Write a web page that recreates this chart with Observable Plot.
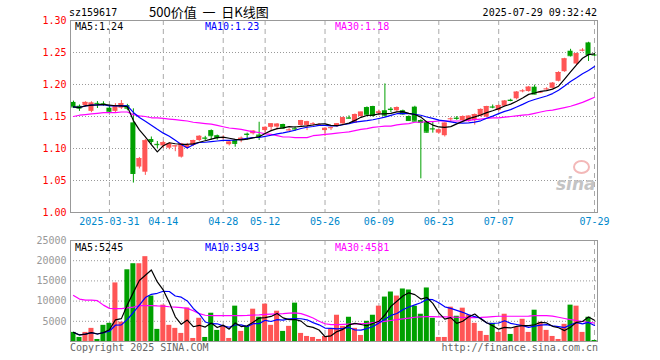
<!DOCTYPE html>
<html><head><meta charset="utf-8">
<script src="https://cdn.jsdelivr.net/npm/d3@7"></script>
<script src="https://cdn.jsdelivr.net/npm/@observablehq/plot@0.6"></script>
<style>
body{margin:0;background:#fff;}
#wrap{position:relative;width:660px;height:360px;overflow:hidden;font-family:"DejaVu Sans Mono",monospace;font-size:10px;}
#wrap svg{position:absolute;left:0;}
.t{position:absolute;white-space:pre;line-height:1;}
</style></head>
<body><div id="wrap"></div>
<script>
const dates = ["03-21","03-24","03-25","03-26","03-27","03-28","03-31","04-01","04-02","04-03","04-07","04-08","04-09","04-10","04-11","04-14","04-15","04-16","04-17","04-18","04-21","04-22","04-23","04-24","04-25","04-28","04-29","04-30","05-06","05-07","05-08","05-09","05-12","05-13","05-14","05-15","05-16","05-19","05-20","05-21","05-22","05-23","05-26","05-27","05-28","05-29","05-30","06-03","06-04","06-05","06-06","06-09","06-10","06-11","06-12","06-13","06-16","06-17","06-18","06-19","06-20","06-23","06-24","06-25","06-26","06-27","06-30","07-01","07-02","07-03","07-04","07-07","07-08","07-09","07-10","07-11","07-14","07-15","07-16","07-17","07-18","07-21","07-22","07-23","07-24","07-25","07-28","07-29"];
const open  = [1.172,1.166,1.167,1.158,1.1705,1.170,1.163,1.158,1.163,1.167,1.140,1.071,1.063,1.114,1.1065,1.104,1.1005,1.103,1.0865,1.101,1.1047,1.1125,1.1165,1.128,1.120,1.116,1.106,1.1125,1.1125,1.1225,1.123,1.121,1.128,1.133,1.1335,1.1375,1.1285,1.131,1.136,1.136,1.138,1.1365,1.128,1.132,1.1344,1.1385,1.148,1.1396,1.150,1.164,1.1656,1.155,1.159,1.1615,1.159,1.159,1.150,1.1646,1.1437,1.141,1.131,1.124,1.120,1.146,1.1475,1.1437,1.142,1.1437,1.1505,1.149,1.165,1.1594,1.166,1.1755,1.1777,1.1895,1.189,1.1958,1.1875,1.1925,1.194,1.205,1.220,1.252,1.232,1.253,1.265,1.2462];
const high  = [1.174,1.168,1.173,1.173,1.1734,1.173,1.166,1.170,1.175,1.169,1.162,1.086,1.114,1.118,1.111,1.111,1.109,1.104,1.108,1.108,1.113,1.120,1.119,1.129,1.121,1.120,1.111,1.114,1.118,1.124,1.128,1.141,1.134,1.139,1.139,1.138,1.131,1.134,1.144,1.1425,1.1405,1.139,1.1325,1.1335,1.139,1.149,1.151,1.154,1.157,1.165,1.166,1.160,1.201,1.164,1.165,1.160,1.151,1.166,1.145,1.142,1.141,1.130,1.140,1.148,1.150,1.151,1.151,1.154,1.162,1.166,1.168,1.168,1.175,1.177,1.189,1.192,1.197,1.199,1.189,1.195,1.203,1.220,1.241,1.255,1.249,1.256,1.266,1.249];
const low   = [1.163,1.158,1.165,1.156,1.1625,1.166,1.155,1.155,1.161,1.159,1.046,1.068,1.058,1.106,1.100,1.100,1.098,1.095,1.085,1.099,1.103,1.111,1.112,1.113,1.113,1.114,1.104,1.102,1.109,1.113,1.121,1.1125,1.124,1.127,1.129,1.130,1.127,1.127,1.134,1.128,1.135,1.135,1.1187,1.128,1.133,1.137,1.146,1.139,1.149,1.152,1.149,1.151,1.149,1.156,1.157,1.152,1.143,1.142,1.0526,1.124,1.124,1.122,1.118,1.141,1.144,1.142,1.141,1.1365,1.149,1.148,1.162,1.158,1.165,1.173,1.176,1.187,1.188,1.184,1.186,1.191,1.193,1.204,1.219,1.243,1.230,1.251,1.236,1.244];
const close = [1.165,1.163,1.172,1.171,1.170,1.169,1.157,1.167,1.170,1.163,1.061,1.084,1.112,1.111,1.106,1.109,1.107,1.104,1.107,1.106,1.1125,1.119,1.116,1.120,1.117,1.117,1.110,1.108,1.116,1.122,1.127,1.119,1.133,1.1385,1.138,1.132,1.129,1.1305,1.1437,1.1417,1.1385,1.137,1.1315,1.1325,1.1385,1.148,1.1474,1.153,1.1568,1.1526,1.1516,1.157,1.152,1.161,1.164,1.154,1.1437,1.1427,1.1406,1.1255,1.1305,1.129,1.1396,1.1464,1.147,1.150,1.1505,1.153,1.161,1.1656,1.1646,1.1672,1.174,1.175,1.188,1.190,1.1958,1.185,1.188,1.193,1.202,1.2187,1.240,1.245,1.248,1.2535,1.247,1.246];
const priceMA30 = [1.150,1.152,1.153,1.154,1.155,1.156,1.156,1.156,1.157,1.157,1.153,1.151,1.150,1.148,1.148,1.147,1.146,1.145,1.144,1.143,1.141,1.140,1.139,1.138,1.136,1.134,1.132,1.131,1.130,1.128,1.126,1.125,1.123,1.122,1.120,1.118,1.118,1.117,1.117,1.117,1.120,1.121,1.122,1.123,1.124,1.125,1.126,1.128,1.130,1.131,1.133,1.134,1.135,1.135,1.137,1.138,1.139,1.141,1.141,1.142,1.142,1.143,1.143,1.143,1.143,1.143,1.144,1.145,1.146,1.147,1.148,1.148,1.149,1.150,1.151,1.152,1.153,1.155,1.157,1.159,1.160,1.162,1.164,1.166,1.169,1.172,1.176,1.180];
const volume = [2250,1000,2250,3250,500,4000,4500,14500,4800,17750,19250,19250,21000,11250,3000,9000,4000,3250,2000,8300,750,5750,1000,7000,2750,3750,750,8750,2500,3750,8000,6000,9250,4000,7500,2500,3750,9500,2000,1250,1000,500,1250,3000,6500,3750,6000,3250,1500,5000,6500,8750,11000,12250,11250,13000,12750,8750,6750,13250,5750,1000,1000,8500,6250,8250,6500,4500,2500,1500,4500,2250,6750,1750,3500,5500,2250,7750,4750,2750,1250,500,4250,9000,8750,2250,6000,250];
const volMA30 = [11400,10500,10250,10250,10100,9000,8200,8150,8150,8300,8500,8900,8900,8900,8800,8750,8600,8500,8400,8200,7600,6900,6500,6400,6400,6400,6400,6400,6400,6450,6550,6600,6700,6800,6850,6900,7000,7100,6900,6400,5800,5000,4400,4200,4200,4250,4300,4350,4400,4500,4650,4800,5000,5200,5400,5600,5800,6000,6100,6150,6150,6100,6100,6050,6000,5950,5900,5900,5950,6050,6150,6250,6250,6250,6250,6250,6300,6400,6400,6400,6300,6000,5700,5400,5200,4950,4750,4581];
const tickDates  = ["03-31","04-14","04-28","05-12","05-26","06-09","06-23","07-07","07-29"];
const tickLabels = ["2025-03-31","04-14","04-28","05-12","05-26","06-09","06-23","07-07","07-29"];
const priceTicks = [1.00,1.05,1.10,1.15,1.20,1.25,1.30];
const volTicks = [5000,10000,15000,20000,25000];
const priceMALabels = ["MA5:1.24","MA10:1.23","MA30:1.18"];
const volMALabels = ["MA5:5245","MA10:3943","MA30:4581"];

const RED = "#ff5555", GREEN = "#00a000";
function movingAvg(arr, n){ return arr.map((_, i) => d3.mean(arr.slice(Math.max(0, i - n + 1), i + 1))); }
const pma5 = movingAvg(close, 5), pma10 = movingAvg(close, 10);
const vma5 = movingAvg(volume, 5), vma10 = movingAvg(volume, 10);
const rows = dates.map((d, i) => ({i, date: d, open: open[i], high: high[i], low: low[i], close: close[i], vol: volume[i],
  pma5: pma5[i], pma10: pma10[i], pma30: priceMA30[i], vma5: vma5[i], vma10: vma10[i], vma30: volMA30[i]}));
const col = d => d.close >= d.open ? RED : GREEN;
const tickIdx = tickDates.map(t => dates.indexOf(t));
const labelOf = i => tickLabels[tickIdx.indexOf(i)];
const xDomain = [-0.5, dates.length - 0.5];
const HW = 0.42;
const styleObj = {fontFamily: "DejaVu Sans Mono", fontSize: "10px", overflow: "visible", background: "transparent"};

const price = Plot.plot({
  width: 660, height: 232, marginTop: 20, marginBottom: 20, marginLeft: 70, marginRight: 63,
  x: {type: "linear", domain: xDomain, axis: null},
  y: {domain: [1.0, 1.3], axis: null},
  style: styleObj,
  marks: [
    Plot.gridY(priceTicks.slice(1, -1), {stroke: "#999", strokeOpacity: 1, strokeDasharray: "1,2"}),
    Plot.gridX(tickIdx, {stroke: "#aaa", strokeOpacity: 1, strokeDasharray: "5,4"}),
    Plot.ruleX(rows, {x: "i", y1: "low", y2: "high", stroke: col}),
    Plot.rect(rows, {x1: d => d.i - HW, x2: d => d.i + HW, y1: "open", y2: "close", fill: col}),
    Plot.ruleY(rows, {y: "close", x1: d => d.i - HW, x2: d => d.i + HW, stroke: col}),
    Plot.line(rows, {x: "i", y: "pma30", stroke: "#ff00ff", strokeWidth: 1.2}),
    Plot.line(rows, {x: "i", y: "pma10", stroke: "#0000ff", strokeWidth: 1.2}),
    Plot.line(rows, {x: "i", y: "pma5", stroke: "#000", strokeWidth: 1.2}),
    Plot.frame({stroke: "#999"}),
    Plot.axisY(priceTicks, {tickSize: 0, tickPadding: 4, tickFormat: d => d.toFixed(2), fill: "#ff0000", label: null}),
    Plot.axisX(tickIdx, {tickSize: 0, tickPadding: 5, tickFormat: labelOf, fill: "#0088cc", label: null})
  ]
});
price.style.top = "0px";

const vol = Plot.plot({
  width: 660, height: 135, marginTop: 15, marginBottom: 19, marginLeft: 70, marginRight: 63,
  x: {type: "linear", domain: xDomain, axis: null},
  y: {domain: [0, 25000], axis: null},
  style: styleObj,
  marks: [
    Plot.gridY(volTicks.slice(0, -1), {stroke: "#999", strokeOpacity: 1, strokeDasharray: "1,2"}),
    Plot.gridX(tickIdx, {stroke: "#aaa", strokeOpacity: 1, strokeDasharray: "5,4"}),
    Plot.rect(rows, {x1: d => d.i - HW, x2: d => d.i + HW, y1: 0, y2: "vol", fill: col}),
    Plot.line(rows, {x: "i", y: "vma30", stroke: "#ff00ff", strokeWidth: 1.2}),
    Plot.line(rows, {x: "i", y: "vma10", stroke: "#0000ff", strokeWidth: 1.2}),
    Plot.line(rows, {x: "i", y: "vma5", stroke: "#000", strokeWidth: 1.2}),
    Plot.frame({stroke: "#999"}),
    Plot.axisY(volTicks, {tickSize: 0, tickPadding: 4, tickFormat: d => String(d), fill: "#999", label: null})
  ]
});
vol.style.top = "225px";

const wrap = document.getElementById("wrap");
wrap.appendChild(price);
wrap.appendChild(vol);
function addText(txt, left, top, css){
  const s = document.createElement("div"); s.className = "t"; s.textContent = txt;
  s.style.left = left + "px"; s.style.top = top + "px";
  Object.assign(s.style, css || {}); wrap.appendChild(s); return s;
}
addText("sz159617", 69, 8, {fontSize: "10px"});
addText("500价值  一  日K线图", 149, 5, {fontFamily: "'Noto Sans CJK SC'", fontSize: "13px"});
const ts = addText("2025-07-29 09:32:42", 0, 8, {fontSize: "10px"}); ts.style.left = "auto"; ts.style.right = (660 - 597) + "px";
const maCols = ["#000", "#0000ff", "#ff00ff"], maX = [75, 205, 335];
priceMALabels.forEach((t, k) => addText(t, maX[k], 22, {color: maCols[k]}));
volMALabels.forEach((t, k) => addText(t, maX[k], 243, {color: maCols[k]}));
addText("Copyright 2025 SINA.COM", 70, 343, {color: "#666"});
const url = addText("http://finance.sina.com.cn", 0, 343, {color: "#666"}); url.style.left = "auto"; url.style.right = (660 - 598) + "px";
addText("sina", 556, 176, {fontFamily: "'DejaVu Sans'", fontWeight: "bold", fontStyle: "italic", fontSize: "17px", color: "#c4c4c4"});
const eye = document.createElement("div");
Object.assign(eye.style, {position: "absolute", left: "573px", top: "160px", width: "13px", height: "10px", borderRadius: "50%", border: "2px solid #f3b8b8"});
wrap.appendChild(eye);
</script></body></html>
